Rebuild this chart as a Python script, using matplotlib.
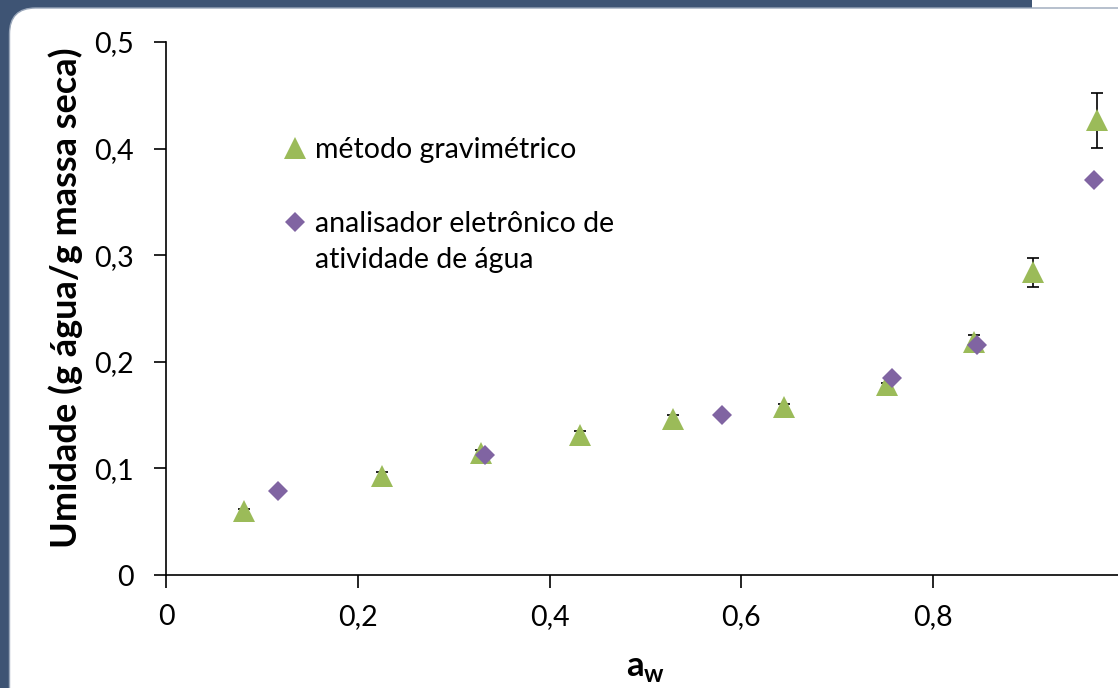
import numpy as np
import matplotlib.pyplot as plt
from matplotlib.patches import Rectangle, FancyBboxPatch
from matplotlib.lines import Line2D

plt.rcParams['font.family'] = ['Lato', 'DejaVu Sans']
plt.rcParams['mathtext.fontset'] = 'custom'
plt.rcParams['mathtext.bf'] = 'Lato:bold'
plt.rcParams['mathtext.rm'] = 'Lato'

# dados
aw_grav = [0.081, 0.225, 0.329, 0.432, 0.529, 0.645, 0.752, 0.843, 0.904, 0.971]
u_grav = [0.0596, 0.0933, 0.1144, 0.1318, 0.1468, 0.158, 0.178, 0.219, 0.284, 0.4264]
err_grav = [0.002, 0.003, 0.003, 0.003, 0.003, 0.002, 0.002, 0.006, 0.0135, 0.026]

aw_anal = [0.117, 0.333, 0.580, 0.757, 0.846, 0.968]
u_anal = [0.0785, 0.1126, 0.150, 0.185, 0.2158, 0.3705]

green = '#9BBB59'
purple = '#8064A2'
blue = '#3E5474'

W, H = 1118, 688
fig = plt.figure(figsize=(W / 100, H / 100), dpi=100)
fig.patch.set_facecolor('white')

# moldura do slide
tr = fig.dpi_scale_trans
fig.patches.append(Rectangle((0, 0), 10.32, H / 100, transform=tr,
                             facecolor=blue, edgecolor='none', zorder=-20))
fig.patches.append(FancyBboxPatch((0.095, -1), 12, H / 100 - 0.08 + 1,
                                  boxstyle="round,pad=0,rounding_size=0.26",
                                  transform=tr, facecolor='white',
                                  edgecolor='#9aa7ba', lw=1, zorder=-19))

ax = fig.add_axes([166 / W, (H - 575) / H, (1124.75 - 166) / W, (575 - 42) / H])
ax.set_facecolor('none')

ax.errorbar(aw_grav, u_grav, yerr=err_grav, fmt='none', ecolor='black',
            elinewidth=1.2, capsize=4.5, capthick=1.2, zorder=2)
p1, = ax.plot(aw_grav, u_grav, linestyle='none', marker='^', markersize=15.5,
              color=green, markeredgewidth=0, zorder=3)
p2, = ax.plot(aw_anal, u_anal, linestyle='none', marker='D', markersize=10.5,
              color=purple, markeredgewidth=0, zorder=4)

ax.set_xlim(0, 1)
ax.set_ylim(0, 0.5)
ax.set_xticks([0, 0.2, 0.4, 0.6, 0.8])
ax.set_xticklabels(['0', '0,2', '0,4', '0,6', '0,8'])
ax.set_yticks([0, 0.1, 0.2, 0.3, 0.4, 0.5])
ax.set_yticklabels(['0', '0,1', '0,2', '0,3', '0,4', '0,5'])
ax.tick_params(direction='out', length=9, width=1.2, labelsize=20.5)
ax.tick_params(axis='x', pad=12)
ax.tick_params(axis='y', pad=14)
for s in ['top', 'right']:
    ax.spines[s].set_visible(False)
for s in ['left', 'bottom']:
    ax.spines[s].set_linewidth(1.2)

ax.set_ylabel('Umidade (g água/g massa seca)', fontsize=26, fontweight='bold')
ax.yaxis.set_label_coords(-0.087, 0.52)
ax.set_xlabel(r'$\mathbf{a}_\mathbf{w}$', fontsize=25)
ax.xaxis.set_label_coords(0.5, -0.145)

blank = Line2D([], [], linestyle='none')
ax.legend([p1, blank, p2, blank],
          ['método gravimétrico', ' ', 'analisador eletrônico de', 'atividade de água'],
          loc='upper left', bbox_to_anchor=(0.09, 0.87), frameon=False,
          fontsize=20.5, handletextpad=0.1, labelspacing=0.38, handlelength=1.2,
          markerscale=1.0)

fig.savefig('out.png', dpi=100)
